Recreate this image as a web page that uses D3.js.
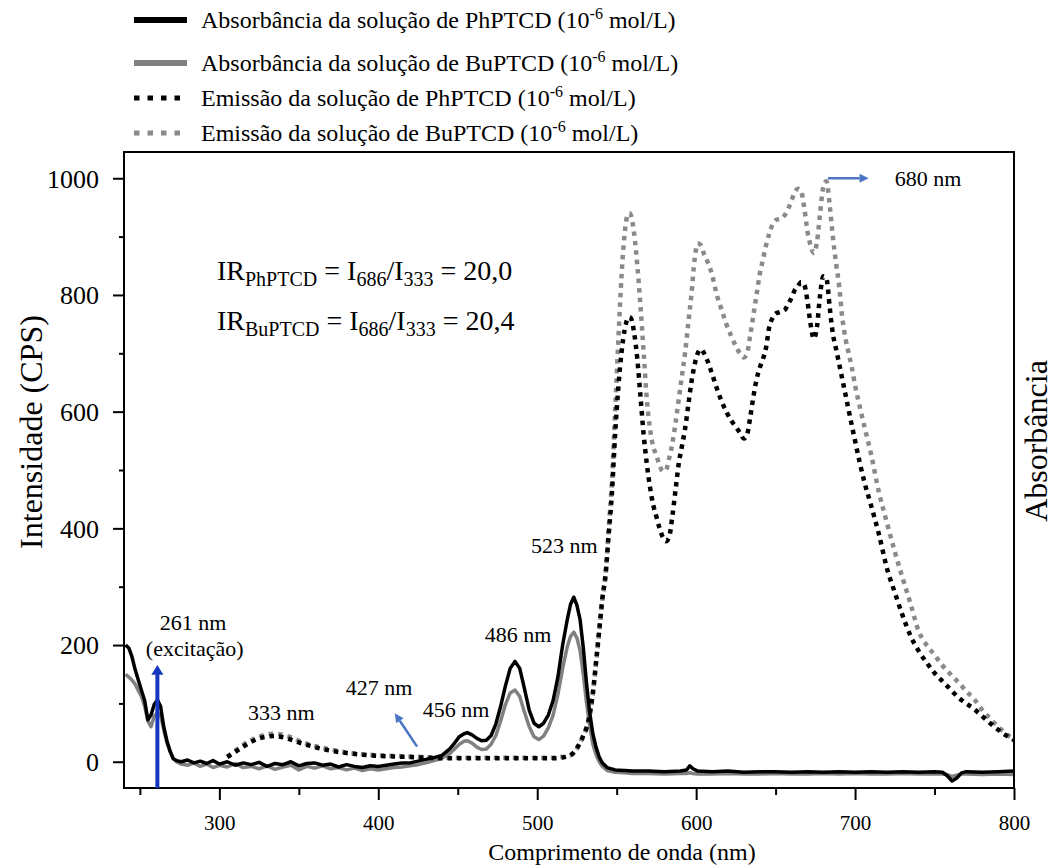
<!DOCTYPE html>
<html>
<head>
<meta charset="utf-8">
<script src="https://cdn.jsdelivr.net/npm/d3@7"></script>
<style>
  body { margin: 0; background: #fff; }
  svg { display: block; }
  text { font-family: "Liberation Serif", "Times New Roman", serif; fill: #000; }
</style>
</head>
<body>
<svg id="chart" width="1054" height="865"></svg>
<script>
// Absorption spectra (shared wavelength grid, nm)
const absWl = [241,243,245,247,249,251,253,255,257,259,261,263,265,267,269,271,273,276,280,284,288,292,296,300,305,310,315,320,325,330,335,340,345,350,355,360,365,370,375,380,385,390,395,400,405,410,415,420,425,430,435,440,445,448,451,454,456,459,462,465,468,471,474,477,480,483,486,489,492,495,498,501,504,507,510,513,516,519,521,523,525,527,529,531,533,535,537,539,541,544,549,555,560,570,580,590,594,596,598,601,610,620,630,640,650,660,670,680,690,700,710,720,730,740,750,755,758,761,764,767,770,780,790,800];
const absPh = [200,195,180,158,140,122,105,72,80,98,106,95,60,36,18,5,2,0,3,-2,1,-3,2,-4,0,-6,-2,-5,-1,-8,-3,-5,0,-7,-3,-2,-6,-4,-9,-5,-8,-10,-7,-8,-6,-4,-2,-2,1,4,7,11,22,32,43,48,50,46,40,36,37,45,65,95,130,160,172,160,125,88,66,60,66,80,105,145,200,245,270,282,268,243,195,135,85,48,25,8,-2,-10,-14,-15,-16,-16,-17,-16,-14,-7,-12,-16,-17,-16,-18,-17,-17,-18,-17,-18,-17,-18,-17,-18,-17,-18,-17,-18,-24,-33,-28,-19,-17,-18,-17,-16];
const absBu = [150,145,140,133,122,112,95,70,60,78,84,80,55,32,18,6,0,-4,-6,-2,-8,-4,-10,-6,-9,-3,-10,-8,-12,-7,-13,-9,-6,-14,-8,-11,-7,-12,-10,-14,-11,-15,-12,-14,-12,-10,-9,-7,-5,-2,2,6,14,22,30,35,36,32,25,21,22,30,45,70,98,118,123,112,85,60,43,38,44,58,80,115,160,198,215,222,212,190,150,102,62,30,12,0,-8,-15,-18,-19,-20,-20,-21,-20,-20,-19,-20,-21,-21,-20,-21,-21,-20,-21,-21,-20,-21,-20,-21,-21,-20,-21,-21,-21,-22,-25,-23,-21,-21,-22,-21,-22];

// Emission spectra, excitation at 261 nm (shared wavelength grid, nm)
const emWl = [305,310,315,320,325,330,335,340,345,350,355,360,370,380,390,400,410,420,430,440,450,460,470,480,490,500,510,515,520,523,526,529,532,535,537,539,541,543,545,547,549,551,553,555,557,558,559,561,563,565,567,569,571,573,575,577,579,581,583,585,587,589,591,593,595,597,599,601,603,605,607,610,613,616,619,622,625,628,630,632,634,636,638,640,642,644,646,648,650,652,654,656,658,660,662,664,666,668,670,672,674,676,678,680,682,684,686,688,690,692,694,696,698,700,703,706,710,715,720,725,730,735,740,745,750,755,760,765,770,775,780,785,790,795,800];
const emPh = [8,17,26,34,40,43,44,42,38,33,29,25,19,15,12,10,9,8,7,6,6,6,6,6,6,6,6,7,10,16,28,45,68,118,170,225,280,320,390,460,560,640,700,740,760,762,760,735,690,625,560,510,470,440,420,400,385,378,385,420,465,510,540,570,610,650,680,700,707,700,688,665,640,618,600,585,574,562,554,560,590,625,655,675,690,710,745,760,768,770,772,775,785,795,808,815,822,818,790,750,725,745,800,832,828,780,734,708,682,655,629,602,576,550,512,478,440,390,332,290,250,215,190,170,152,138,124,110,100,90,78,66,55,45,37];
const emBu = [9,19,29,37,43,47,48,46,42,36,31,27,21,16,13,11,10,9,8,7,7,7,7,7,7,7,7,8,10,15,27,44,66,115,168,222,278,322,400,480,600,720,830,905,938,940,936,905,850,780,700,620,570,540,525,508,498,500,520,545,580,620,660,700,750,800,860,888,885,870,858,835,800,775,750,730,712,698,693,700,730,765,800,835,860,885,905,920,928,930,932,938,948,962,975,982,978,950,910,885,872,890,940,985,995,955,900,855,815,760,725,700,675,645,608,573,528,462,410,360,314,270,224,200,183,165,150,136,121,107,89,74,60,48,38];

// Axis ticks
const xMajorTicks = [300, 400, 500, 600, 700, 800];
const xMinorTicks = [250, 350, 450, 550, 650, 750];
const yMajorTicks = [0, 200, 400, 600, 800, 1000];
const yMinorTicks = [100, 300, 500, 700, 900];

// Band annotations: label, anchor wavelength and intensity for the text baseline
const bandLabels = [
  { text: "261 nm", wl: 283.5, val: 226 },
  { text: "(excitação)", wl: 284.5, val: 181 },
  { text: "333 nm", wl: 339, val: 72 },
  { text: "427 nm", wl: 400.5, val: 114 },
  { text: "456 nm", wl: 449, val: 77 },
  { text: "486 nm", wl: 488, val: 206 },
  { text: "523 nm", wl: 517, val: 358 }
];

const legendItems = [
  { label: "Absorbância da solução de PhPTCD", color: "#000", dotted: false },
  { label: "Absorbância da solução de BuPTCD", color: "#808080", dotted: false },
  { label: "Emissão da solução de PhPTCD", color: "#000", dotted: true },
  { label: "Emissão da solução de BuPTCD", color: "#8a8a8a", dotted: true }
];

const svg = d3.select("#chart");
const pL = 124, pR = 1014, pT = 152, pB = 788;

const x = d3.scaleLinear().domain([240, 800]).range([pL, pR]);
const y = d3.scaleLinear().domain([-45, 1045]).range([pB, pT]);

svg.append("defs").append("clipPath").attr("id", "plot-clip")
  .append("rect").attr("x", pL).attr("y", pT)
  .attr("width", pR - pL).attr("height", pB - pT);

// Axes
const xAxis = svg.append("g").attr("transform", `translate(0,${pB})`)
  .call(d3.axisBottom(x).tickValues(xMajorTicks).tickSize(12).tickFormat(d3.format("d")));
xAxis.selectAll("text").attr("y", 42).attr("dy", 0).style("font-size", "21px");
svg.append("g").attr("transform", `translate(0,${pB})`)
  .call(d3.axisBottom(x).tickValues(xMinorTicks).tickSize(7).tickFormat(""));

const yAxis = svg.append("g").attr("transform", `translate(${pL},0)`)
  .call(d3.axisLeft(y).tickValues(yMajorTicks).tickSize(11).tickPadding(14).tickFormat(d3.format("d")));
yAxis.selectAll("text").style("font-size", "26px").attr("dy", "0.34em");
svg.append("g").attr("transform", `translate(${pL},0)`)
  .call(d3.axisLeft(y).tickValues(yMinorTicks).tickSize(5).tickFormat(""));

svg.selectAll(".domain").remove();
svg.selectAll(".tick line").attr("stroke", "#000").attr("stroke-width", 2);
svg.selectAll(".tick text").style("font-family", "'Liberation Serif', serif").attr("fill", "#000");

// Series
const plot = svg.append("g").attr("clip-path", "url(#plot-clip)");
const line = d3.line().x(d => x(d[0])).y(d => y(d[1]));
const smooth = d3.line().x(d => x(d[0])).y(d => y(d[1])).curve(d3.curveMonotoneX);

const zip = (a, b) => a.map((v, i) => [v, b[i]]);

plot.append("path").datum(zip(emWl, emBu))
  .attr("d", smooth).attr("fill", "none").attr("stroke", "#8a8a8a")
  .attr("stroke-width", 4.5).attr("stroke-dasharray", "4.5,5");
plot.append("path").datum(zip(absWl, absBu))
  .attr("d", line).attr("fill", "none").attr("stroke", "#808080")
  .attr("stroke-width", 3.5).attr("stroke-linejoin", "round");
plot.append("path").datum(zip(absWl, absPh))
  .attr("d", line).attr("fill", "none").attr("stroke", "#000")
  .attr("stroke-width", 3.5).attr("stroke-linejoin", "round");
plot.append("path").datum(zip(emWl, emPh))
  .attr("d", smooth).attr("fill", "none").attr("stroke", "#000")
  .attr("stroke-width", 4.5).attr("stroke-dasharray", "4.5,5");

// Frame
svg.append("rect").attr("x", pL).attr("y", pT)
  .attr("width", pR - pL).attr("height", pB - pT)
  .attr("fill", "none").attr("stroke", "#000").attr("stroke-width", 2);

// Excitation arrow at 261 nm
const exc = x(261);
svg.append("line").attr("x1", exc).attr("x2", exc)
  .attr("y1", pB).attr("y2", y(150))
  .attr("stroke", "#1638c0").attr("stroke-width", 4);
svg.append("path")
  .attr("d", `M${exc},${y(166)} L${exc - 6},${y(149)} L${exc + 6},${y(149)} Z`)
  .attr("fill", "#1638c0");

// Small pointer arrows
function arrow(x1, y1, x2, y2, color) {
  const ang = Math.atan2(y2 - y1, x2 - x1);
  const hl = 9, hw = 4.5;
  const bx = x2 - hl * Math.cos(ang), by = y2 - hl * Math.sin(ang);
  svg.append("line").attr("x1", x1).attr("y1", y1).attr("x2", bx).attr("y2", by)
    .attr("stroke", color).attr("stroke-width", 2.5);
  svg.append("path")
    .attr("d", `M${x2},${y2} L${bx - hw * Math.sin(ang)},${by + hw * Math.cos(ang)} L${bx + hw * Math.sin(ang)},${by - hw * Math.cos(ang)} Z`)
    .attr("fill", color);
}
arrow(x(424.4), y(26), x(410.4), y(83), "#4a76c4");
arrow(x(683), y(1000), x(708.5), y(1000), "#4a76c4");

// Band labels
svg.selectAll(".band").data(bandLabels).join("text")
  .attr("class", "band")
  .attr("x", d => x(d.wl)).attr("y", d => y(d.val))
  .attr("text-anchor", "middle").style("font-size", "22px")
  .text(d => d.text);
svg.append("text").attr("x", x(725)).attr("y", y(1000) + 8)
  .style("font-size", "22px").text("680 nm");

// Intensity ratios
const ratios = [
  { name: "PhPTCD", value: "20,0", baseline: 280 },
  { name: "BuPTCD", value: "20,4", baseline: 330 }
];
ratios.forEach(r => {
  const t = svg.append("text").attr("x", 217).attr("y", r.baseline).style("font-size", "28px");
  t.append("tspan").text("IR");
  t.append("tspan").attr("dy", 6).style("font-size", "20px").text(r.name);
  t.append("tspan").attr("dy", -6).text(" = I");
  t.append("tspan").attr("dy", 6).style("font-size", "20px").text("686");
  t.append("tspan").attr("dy", -6).text("/I");
  t.append("tspan").attr("dy", 6).style("font-size", "20px").text("333");
  t.append("tspan").attr("dy", -6).text(" = " + r.value);
});

// Axis titles
svg.append("text").attr("transform", "translate(42,432) rotate(-90)")
  .attr("text-anchor", "middle").style("font-size", "32px").text("Intensidade (CPS)");
svg.append("text").attr("transform", "translate(1047,441) rotate(-90)")
  .attr("text-anchor", "middle").style("font-size", "32px").text("Absorbância");
svg.append("text").attr("x", 622).attr("y", 860)
  .attr("text-anchor", "middle").style("font-size", "24px").text("Comprimento de onda (nm)");

// Legend
const legendRows = [20, 63, 98, 133];
legendItems.forEach((d, i) => {
  const ly = legendRows[i];
  svg.append("line").attr("x1", 134).attr("x2", 187).attr("y1", ly).attr("y2", ly)
    .attr("stroke", d.color).attr("stroke-width", d.dotted ? 5 : 6)
    .attr("stroke-dasharray", d.dotted ? "5.5,8" : null);
  const t = svg.append("text").attr("x", 201).attr("y", ly + 8).style("font-size", "24px");
  t.append("tspan").text(d.label + " (10");
  t.append("tspan").attr("dy", -9).style("font-size", "16px").text("-6");
  t.append("tspan").attr("dy", 9).text(" mol/L)");
});
</script>
</body>
</html>
